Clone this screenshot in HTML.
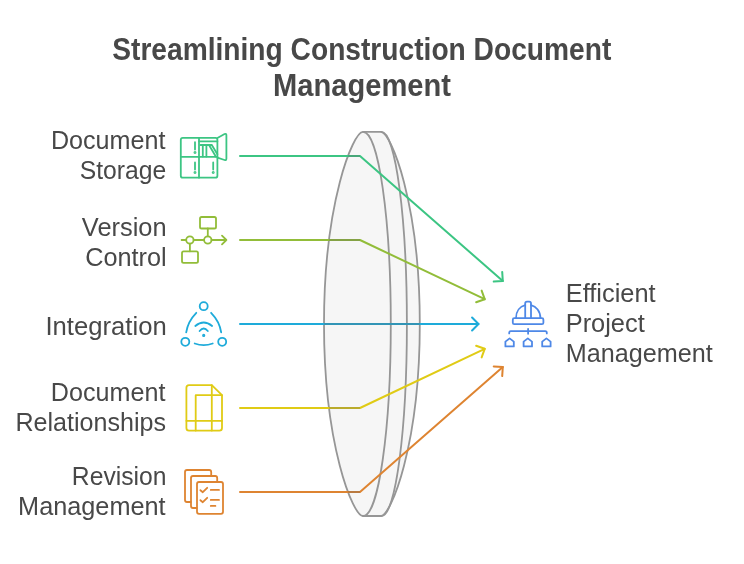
<!DOCTYPE html>
<html>
<head>
<meta charset="utf-8">
<title>Streamlining Construction Document Management</title>
<style>
html,body{margin:0;padding:0;background:#fff;}
body{width:744px;height:564px;overflow:hidden;position:relative;}
svg{position:absolute;left:0;top:0;display:block;will-change:transform;}
text{font-family:"Liberation Sans",sans-serif;fill:#484848;}
.t{font-weight:bold;font-size:30.5px;}
.l{font-size:25px;}
.ic{fill:none;stroke-width:1.8;stroke-linecap:round;stroke-linejoin:round;}
</style>
</head>
<body>
<svg width="744" height="564" viewBox="0 0 744 564">
<rect width="744" height="564" fill="#ffffff"/>

<g fill="#f6f6f6" stroke="#969696" stroke-width="1.8" stroke-linejoin="round" stroke-linecap="round">
<path d="M362.9,131.9 C353.17,131.9 324.00,202.00 324.00,323.95 C324.00,445.90 353.17,516.0 362.9,516.0 L380.9,516.0 C390.62,516.0 419.80,445.90 419.80,323.95 C419.80,202.00 390.62,131.9 380.9,131.9 Z"/>
<path fill="none" d="M381.5,131.9 C395.53,131.9 406.9,217.88 406.9,323.95 C406.9,430.02 395.53,516.0 381.5,516.0"/>
<path fill="none" d="M363.2,131.9 C378.44,131.9 390.8,217.88 390.8,323.95 C390.8,430.02 378.44,516.0 363.2,516.0"/>
</g>
<g fill="none" stroke-width="2" stroke-linecap="round" stroke-linejoin="round">
<g stroke="#3cc583"><path d="M240,156 L360,156 L502.8,281"/><path d="M502.20,271.92 L502.8,281 L493.72,281.60"/></g>
<g stroke="#92bd39"><path d="M240,240 L360,240 L484.7,299.2"/><path d="M481.65,290.63 L484.7,299.2 L476.13,302.25"/></g>
<g stroke="#1eabda"><path d="M240,324 L478.5,324"/><path d="M472.07,317.57 L478.5,324 L472.07,330.43"/></g>
<g stroke="#e0cb15"><path d="M240,408 L360,408 L484.7,348.8"/><path d="M476.13,345.75 L484.7,348.8 L481.65,357.37"/></g>
<g stroke="#de8431"><path d="M240,492 L360,492 L502.8,367"/><path d="M493.72,366.40 L502.8,367 L502.20,376.08"/></g>
</g>
<clipPath id="lensclip"><path d="M362.9,131.9 C353.17,131.9 324.00,202.00 324.00,323.95 C324.00,445.90 353.17,516.0 362.9,516.0 L380.9,516.0 C390.62,516.0 419.80,445.90 419.80,323.95 C419.80,202.00 390.62,131.9 380.9,131.9 Z"/></clipPath>
<g clip-path="url(#lensclip)" fill="none" stroke="#646464" stroke-opacity="0.3" stroke-width="2" stroke-linecap="butt">
<path d="M300,156 H360 M300,240 H360 M300,324 H440 M300,408 H360 M300,492 H360"/>
</g>
<!-- icon 1: document storage cabinet -->
<g class="ic" stroke="#3cc583">
  <rect x="180.8" y="137.8" width="36.6" height="39.9" rx="2"/>
  <path d="M199,137.8 V177.7 M180.8,156.8 H217.4"/>
  <path d="M199,141.3 H217.4"/>
  <path d="M200.5,145 H211.8 M202.8,145 V156.5 M206.4,145 V156.5 M209,145 L215.8,156.5 M211.8,145 L217.4,154.2"/>
  <path d="M217.4,138 L224.6,134 Q226.4,133.4 226.4,135.4 V158.6 Q226.4,160.6 224.6,160 L217.4,157.6"/>
  <path d="M195,142.2 V149.6 M195,162.4 V169.6 M213.2,162.4 V169.6"/>
  <circle cx="195" cy="152.5" r="0.6"/><circle cx="195" cy="172.5" r="0.6"/><circle cx="213.2" cy="172.5" r="0.6"/>
</g>
<!-- icon 2: version control -->
<g class="ic" stroke="#92bd39">
  <rect x="200" y="217" width="16" height="11.5" rx="1.6"/>
  <rect x="182" y="251.3" width="16" height="11.5" rx="1.6"/>
  <circle cx="189.9" cy="240" r="3.7"/><circle cx="207.8" cy="240" r="3.7"/>
  <path d="M181.6,240 H186.2 M193.6,240 H204.1 M211.5,240 H226.4 M222,235.7 L226.4,240 L222,244.3 M207.8,228.5 V236.3 M189.9,243.7 V251.3"/>
</g>
<!-- icon 3: integration -->
<g class="ic" stroke="#1eabda">
  <circle cx="203.7" cy="306.2" r="4"/><circle cx="185.3" cy="341.8" r="4"/><circle cx="222.2" cy="341.8" r="4"/>
  <path d="M196.3,312.8 Q187.8,321.5 186.2,332.4 M211.1,312.8 Q219.6,321.5 221.2,332.4 M194.7,343.5 Q203.7,346.8 212.7,343.5"/>
  <path d="M195.3,326 Q203.7,319 212.1,326 M199.6,331 Q203.7,326 207.8,331"/>
  <circle cx="203.7" cy="335.4" r="0.7"/>
</g>
<!-- icon 4: document relationships -->
<g class="ic" stroke="#e0cb15">
  <path d="M211.8,385.2 H189 Q186.4,385.2 186.4,387.8 V428 Q186.4,430.6 189,430.6 H219.4 Q222,430.6 222,428 V395.2 Z"/>
  <path d="M211.8,385.2 V430.6 M195.7,395.2 H222 M195.7,395.2 V430.6 M186.4,420.8 H222"/>
</g>
<!-- icon 5: revision management -->
<g class="ic" stroke="#de8431">
  <path d="M190.8,502 H187 Q185,502 185,500 V472 Q185,470 187,470 H209.2 Q211.2,470 211.2,472 V475.6"/>
  <path d="M196.8,508 H193 Q191,508 191,506 V478 Q191,476 193,476 H215.2 Q217.2,476 217.2,478 V481.6"/>
  <rect x="197" y="482" width="26" height="31.8" rx="2"/>
  <path d="M200.4,490.2 L202.8,492.2 L207.2,487.8 M210.8,489.9 H219 M200.4,500.2 L202.8,502.2 L207.2,497.8 M210.8,499.9 H219 M210.8,505.9 H215.4"/>
</g>
<!-- icon 6: project management (hard hat + org chart) -->
<g class="ic" stroke="#4e88e7">
  <rect x="512.8" y="318.2" width="30.6" height="6" rx="1.5"/>
  <path d="M516,318.2 C516,311 520,306.4 525.2,305.2 M531,305.2 C536.2,306.4 540.4,311 540.4,318.2"/>
  <path d="M525.2,318.2 V303.4 Q525.2,301.6 527,301.6 H529.2 Q531,301.6 531,303.4 V318.2"/>
  <path d="M528.1,328.8 V333.8 M509.2,333.4 V332.8 Q509.2,331.2 510.8,331.2 H545.2 Q546.8,331.2 546.8,332.8 V333.4"/>
  <path d="M505.4,346.4 V341.6 L509.6,338.4 L513.8,341.6 V346.4 Z M523.6,346.4 V341.6 L527.8,338.4 L532,341.6 V346.4 Z M542.2,346.4 V341.6 L546.4,338.4 L550.6,341.6 V346.4 Z"/>
</g>

<text class="t" transform="translate(112.23,59.9) scale(0.9237,1)">Streamlining Construction Document</text>
<text class="t" transform="translate(273.04,95.9) scale(0.9547,1)">Management</text>
<text class="l" transform="translate(50.93,148.75) scale(1.005,1)">Document</text>
<text class="l" transform="translate(79.69,178.75) scale(0.9885,1)">Storage</text>
<text class="l" transform="translate(81.84,235.7) scale(1.0165,1)">Version</text>
<text class="l" transform="translate(85.23,265.7) scale(1.0116,1)">Control</text>
<text class="l" transform="translate(45.46,334.8) scale(1.0268,1)">Integration</text>
<text class="l" transform="translate(50.83,400.75) scale(1.0059,1)">Document</text>
<text class="l" transform="translate(15.49,430.75) scale(1.0034,1)">Relationships</text>
<text class="l" transform="translate(71.87,484.75) scale(0.9878,1)">Revision</text>
<text class="l" transform="translate(18.12,514.75) scale(1.0109,1)">Management</text>
<text class="l" transform="translate(565.71,301.75) scale(1.0167,1)">Efficient</text>
<text class="l" transform="translate(565.71,331.75) scale(1.0164,1)">Project</text>
<text class="l" transform="translate(565.73,361.75) scale(1.0074,1)">Management</text>
</svg>
</body>
</html>
